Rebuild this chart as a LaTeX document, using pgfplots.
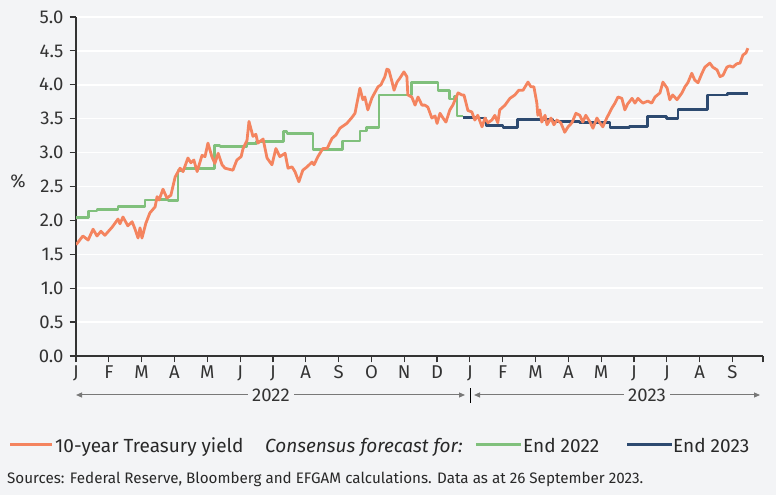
\documentclass[border=0pt]{standalone}
\usepackage{pgfplots}
\pgfplotsset{compat=1.18}
\usepackage{pgfplotstable}
\usepackage{fontspec}
\setmainfont{Fira Sans}
\setsansfont{Fira Sans}
\usetikzlibrary{arrows.meta}

\definecolor{bgc}{RGB}{243,244,246}
\definecolor{axc}{RGB}{51,51,51}
\definecolor{txt}{RGB}{40,40,40}
\definecolor{yieldc}{RGB}{244,132,95}
\definecolor{endtwo}{RGB}{128,192,124}
\definecolor{endthree}{RGB}{45,74,112}
\definecolor{arrc}{RGB}{120,120,120}

% x = months since 1 Jan 2022
\pgfplotstableread{
m v
0.00 1.64
0.21 1.77
0.37 1.71
0.52 1.87
0.64 1.77
0.76 1.84
0.88 1.78
1.10 1.90
1.28 2.02
1.34 1.95
1.43 2.05
1.58 1.92
1.71 1.98
1.80 1.87
1.89 1.74
1.95 1.89
2.01 1.74
2.13 1.96
2.25 2.11
2.41 2.20
2.47 2.35
2.53 2.30
2.65 2.46
2.77 2.33
2.89 2.37
3.02 2.64
3.17 2.77
3.26 2.72
3.41 2.92
3.50 2.85
3.59 2.89
3.69 2.72
3.84 2.96
3.93 2.94
4.02 3.14
4.14 2.94
4.23 2.84
4.33 2.99
4.45 2.82
4.54 2.77
4.78 2.74
4.90 2.89
5.03 2.94
5.09 3.06
5.21 3.18
5.27 3.46
5.39 3.24
5.48 3.27
5.54 3.14
5.70 3.20
5.82 2.92
5.97 2.82
6.09 3.06
6.21 2.94
6.37 2.99
6.46 2.77
6.58 2.79
6.67 2.72
6.79 2.57
6.91 2.74
7.04 2.79
7.19 2.86
7.25 2.82
7.37 2.94
7.52 3.06
7.65 3.06
7.80 3.21
7.92 3.26
8.04 3.36
8.25 3.43
8.41 3.52
8.50 3.58
8.56 3.73
8.65 3.95
8.74 3.78
8.80 3.82
8.89 3.63
9.02 3.81
9.11 3.89
9.20 3.97
9.29 4.00
9.41 4.12
9.47 4.23
9.53 4.22
9.63 4.04
9.69 3.92
9.78 4.04
9.87 4.10
9.99 4.19
10.08 4.12
10.11 3.85
10.23 3.82
10.33 3.70
10.42 3.82
10.54 3.70
10.63 3.70
10.72 3.67
10.84 3.51
10.94 3.54
11.00 3.43
11.09 3.58
11.18 3.51
11.27 3.45
11.39 3.63
11.48 3.70
11.64 3.88
11.76 3.85
11.82 3.85
11.94 3.62
12.06 3.60
12.15 3.48
12.24 3.55
12.37 3.38
12.46 3.51
12.55 3.44
12.67 3.48
12.76 3.55
12.85 3.44
12.91 3.63
13.07 3.70
13.22 3.80
13.37 3.85
13.49 3.92
13.62 3.92
13.77 4.04
13.86 3.97
13.95 3.97
14.04 3.73
14.07 3.55
14.13 3.63
14.19 3.45
14.29 3.55
14.35 3.41
14.47 3.51
14.56 3.41
14.65 3.48
14.77 3.44
14.89 3.30
14.99 3.38
15.11 3.44
15.23 3.58
15.35 3.55
15.44 3.45
15.53 3.55
15.66 3.45
15.75 3.36
15.87 3.51
15.96 3.44
16.05 3.38
16.17 3.51
16.33 3.66
16.42 3.73
16.51 3.82
16.63 3.80
16.72 3.63
16.81 3.72
16.94 3.80
17.03 3.73
17.12 3.80
17.27 3.73
17.42 3.76
17.54 3.73
17.64 3.82
17.79 3.88
17.88 4.04
18.01 3.95
18.09 3.78
18.18 3.85
18.31 3.78
18.46 3.88
18.55 3.97
18.64 4.03
18.76 4.17
18.85 4.07
18.95 4.03
19.07 4.17
19.16 4.26
19.31 4.32
19.40 4.26
19.53 4.22
19.62 4.12
19.71 4.14
19.83 4.26
19.92 4.28
20.01 4.26
20.13 4.31
20.23 4.32
20.32 4.44
20.41 4.47
20.47 4.54
}\yieldtab

\pgfplotstableread{
m v
0.00 2.04
0.37 2.14
0.64 2.16
1.28 2.20
2.10 2.30
2.47 2.31
2.80 2.29
3.11 2.74
3.29 2.76
4.23 3.11
4.39 3.09
5.21 3.14
5.51 3.16
6.31 3.31
6.43 3.28
7.22 3.05
8.13 3.17
8.65 3.32
8.86 3.37
9.23 3.85
10.23 4.03
11.03 3.91
11.39 3.79
11.54 3.83
11.61 3.54
11.79 3.54
}\endtwotab

\pgfplotstableread{
m v
11.79 3.52
12.21 3.51
12.49 3.40
13.01 3.37
13.46 3.49
14.53 3.46
15.35 3.44
16.27 3.37
16.87 3.39
17.42 3.53
18.00 3.50
18.34 3.64
19.25 3.85
19.86 3.87
20.47 3.87
}\endthreetab

\begin{document}
\begin{tikzpicture}
\fill[bgc] (0pt,0pt) rectangle (776pt,495pt);
\path[use as bounding box] (0pt,0pt) rectangle (776pt,495pt);
\begin{axis}[
  at={(76pt,139pt)}, anchor=south west,
  scale only axis, width=687pt, height=339pt,
  xmin=0, xmax=20.93, ymin=0, ymax=5,
  axis x line*=bottom, axis y line*=left,
  axis line style={line width=1.4pt, draw=axc, -},
  tick align=outside, major tick length=6.5pt,
  tick style={line width=1.2pt, draw=axc},
  xtick={0,...,20},
  xticklabels={J,F,M,A,M,J,J,A,S,O,N,D,J,F,M,A,M,J,J,A,S},
  extra x ticks={20.93}, extra x tick labels={},
  ytick={0,0.5,...,5},
  ymajorgrids, major grid style={white, line width=1.5pt},
  ticklabel style={font=\fontsize{18.5}{21}\selectfont, text=axc},
  yticklabel style={xshift=-2.5pt, /pgf/number format/.cd, fixed, fixed zerofill, precision=1, assume math mode=true},
  line join=round,
]
\addplot[const plot, draw=endtwo, line width=2.8pt] table[x=m, y=v] {\endtwotab};
\addplot[const plot, draw=endthree, line width=2.8pt] table[x=m, y=v] {\endthreetab};
\addplot[draw=yieldc, line width=2.8pt] table[x=m, y=v] {\yieldtab};
\end{axis}

\node[text=axc, font=\fontsize{18.5}{21}\selectfont, anchor=base] at (18pt,307pt) {\%};

% year brackets
\draw[arrc, line width=1pt, {Triangle[length=6pt,width=5pt]}-{Triangle[length=6pt,width=5pt]}] (76pt,100pt) -- (465pt,100pt);
\draw[arrc, line width=1pt, {Triangle[length=6pt,width=5pt]}-{Triangle[length=6pt,width=5pt]}] (474pt,100pt) -- (760pt,100pt);
\draw[black, line width=0.8pt] (470pt,92pt) -- (470pt,107pt);
\node[fill=bgc, inner xsep=4pt, text=axc, font=\fontsize{18.5}{21}\selectfont] at (271pt,100pt) {2022};
\node[fill=bgc, inner xsep=4pt, text=axc, font=\fontsize{18.5}{21}\selectfont] at (647pt,100pt) {2023};

% legend
\begin{scope}[every node/.style={anchor=base west, inner sep=0pt, text=txt, font=\fontsize{19}{22}\selectfont}]
\draw[yieldc, line width=3pt] (10pt,50pt) -- (52pt,50pt);
\node at (55pt,42.5pt) {10-year Treasury yield};
\node at (265pt,42.5pt) {\itshape Consensus forecast for:};
\draw[endtwo, line width=3pt] (476pt,50pt) -- (521pt,50pt);
\node at (523pt,42.5pt) {End 2022};
\draw[endthree, line width=3pt] (627pt,50pt) -- (672pt,50pt);
\node at (673pt,42.5pt) {End 2023};
\end{scope}

\node[anchor=base west, inner sep=0pt, text=txt, font=\fontsize{15.2}{17}\selectfont] at (7pt,11pt)
  {Sources: Federal Reserve, Bloomberg and EFGAM calculations. Data as at 26 September 2023.};
\end{tikzpicture}
\end{document}
